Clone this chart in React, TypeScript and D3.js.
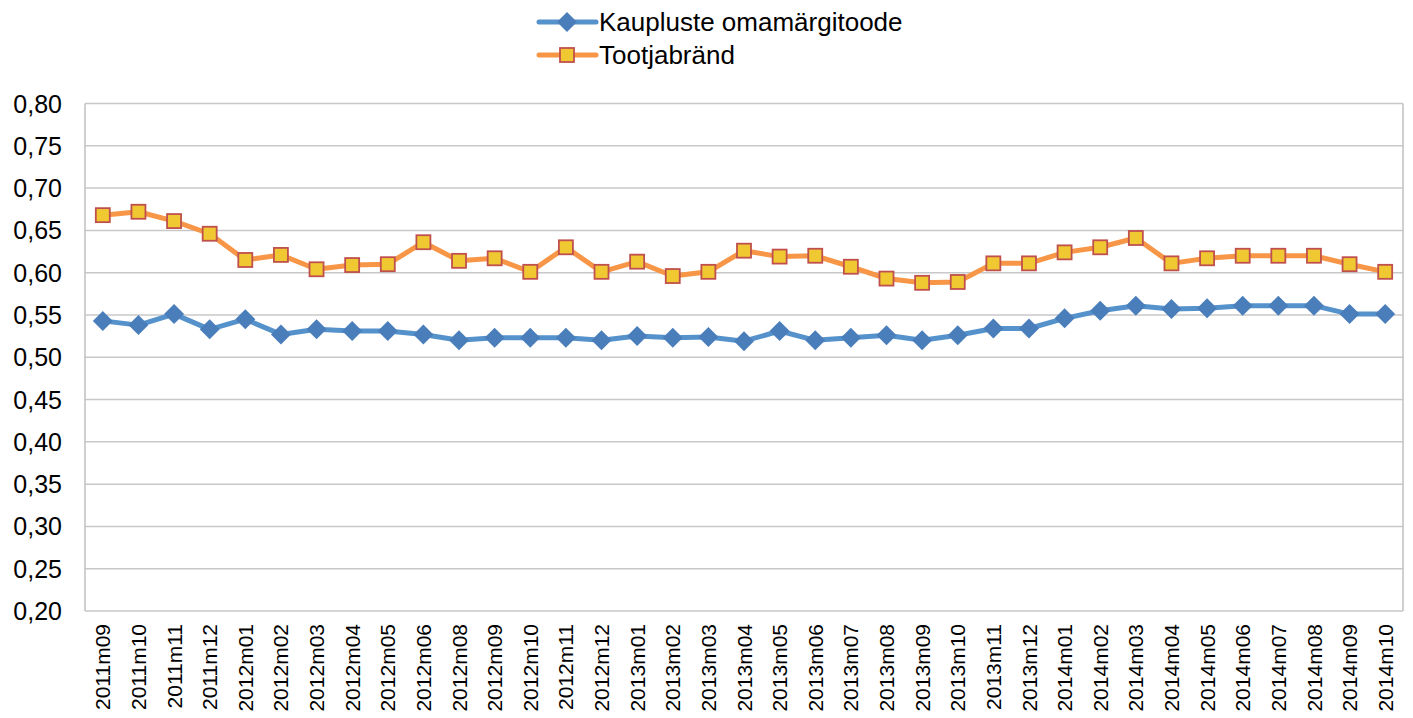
import React from "react";
import * as d3 from "d3";

const categories = [
  "2011m09","2011m10","2011m11","2011m12",
  "2012m01","2012m02","2012m03","2012m04","2012m05","2012m06","2012m08","2012m09","2012m10","2012m11","2012m12",
  "2013m01","2013m02","2013m03","2013m04","2013m05","2013m06","2013m07","2013m08","2013m09","2013m10","2013m11","2013m12",
  "2014m01","2014m02","2014m03","2014m04","2014m05","2014m06","2014m07","2014m08","2014m09","2014m10",
];

const kaupluste = [
  0.543,0.538,0.551,0.533,
  0.545,0.527,0.533,0.531,0.531,0.527,0.520,0.523,0.523,0.523,0.520,
  0.525,0.523,0.524,0.519,0.531,0.520,0.523,0.526,0.520,0.526,0.534,0.534,
  0.546,0.555,0.561,0.557,0.558,0.561,0.561,0.561,0.551,0.551,
];

const tootja = [
  0.668,0.672,0.661,0.646,
  0.615,0.621,0.604,0.609,0.610,0.636,0.614,0.617,0.601,0.630,0.601,
  0.613,0.596,0.601,0.626,0.619,0.620,0.607,0.593,0.588,0.589,0.611,0.611,
  0.624,0.630,0.641,0.611,0.617,0.620,0.620,0.620,0.610,0.601,
];

const yTicks = [0.2,0.25,0.3,0.35,0.4,0.45,0.5,0.55,0.6,0.65,0.7,0.75,0.8];

const seriesNames = ["Kaupluste omamärgitoode", "Tootjabränd"];

const W = 1413, H = 718;
const left = 85, right = 1403, top = 103.5, bottom = 611;

export default function App() {
  const x = d3.scaleBand<string>().domain(categories).range([left, right]);
  const y = d3.scaleLinear().domain([0.2, 0.8]).range([bottom, top]);
  const cx = (c: string) => (x(c) as number) + x.bandwidth() / 2;
  const line = d3.line<number>().x((_, i) => cx(categories[i])).y((v) => y(v));
  const fmt = (v: number) => v.toFixed(2).replace(".", ",");
  const font = "'Liberation Sans', Arial, sans-serif";

  const diamond = (px: number, py: number, k: string) => (
    <path key={k} d={`M${px},${py - 10}L${px + 10},${py}L${px},${py + 10}L${px - 10},${py}Z`} fill="#4A7EBB" />
  );
  const square = (px: number, py: number, k: string) => (
    <rect key={k} x={px - 7} y={py - 7} width={14} height={14} fill="#F0C832" stroke="#C0504D" strokeWidth={1.8} />
  );

  return (
    <svg width={W} height={H} style={{ position: "absolute", left: 0, top: 0, background: "#fff" }} fontFamily={font}>
      {yTicks.map((t) => (
        <g key={t}>
          <line x1={left} x2={right} y1={y(t)} y2={y(t)} stroke="#C8C8C8" strokeWidth={1.5} />
          <text x={62} y={y(t)} dy="0.36em" textAnchor="end" fontSize={25} fill="#000">{fmt(t)}</text>
        </g>
      ))}
      <line x1={left} x2={left} y1={top} y2={bottom} stroke="#BFBFBF" strokeWidth={1.5} />
      <line x1={right} x2={right} y1={top} y2={bottom} stroke="#BFBFBF" strokeWidth={1.5} />
      {categories.map((c) => (
        <text key={c} transform={`translate(${cx(c)},${624}) rotate(-90)`} dy="0.36em" textAnchor="end" fontSize={21} fill="#000">{c}</text>
      ))}
      <path d={line(kaupluste) || ""} fill="none" stroke="#5592CB" strokeWidth={5} strokeLinejoin="round" />
      {kaupluste.map((v, i) => diamond(cx(categories[i]), y(v), "k" + i))}
      <path d={line(tootja) || ""} fill="none" stroke="#F79646" strokeWidth={5} strokeLinejoin="round" />
      {tootja.map((v, i) => square(cx(categories[i]), y(v), "t" + i))}

      <g>
        <line x1={539} x2={596} y1={22} y2={22} stroke="#5592CB" strokeWidth={5} strokeLinecap="round" />
        {diamond(567, 22, "ld")}
        <text x={599} y={22} dy="0.36em" fontSize={26} fill="#000">{seriesNames[0]}</text>
        <line x1={539} x2={596} y1={55} y2={55} stroke="#F79646" strokeWidth={5} strokeLinecap="round" />
        {square(567, 55, "ls")}
        <text x={599} y={55} dy="0.36em" fontSize={26} fill="#000">{seriesNames[1]}</text>
      </g>
    </svg>
  );
}
